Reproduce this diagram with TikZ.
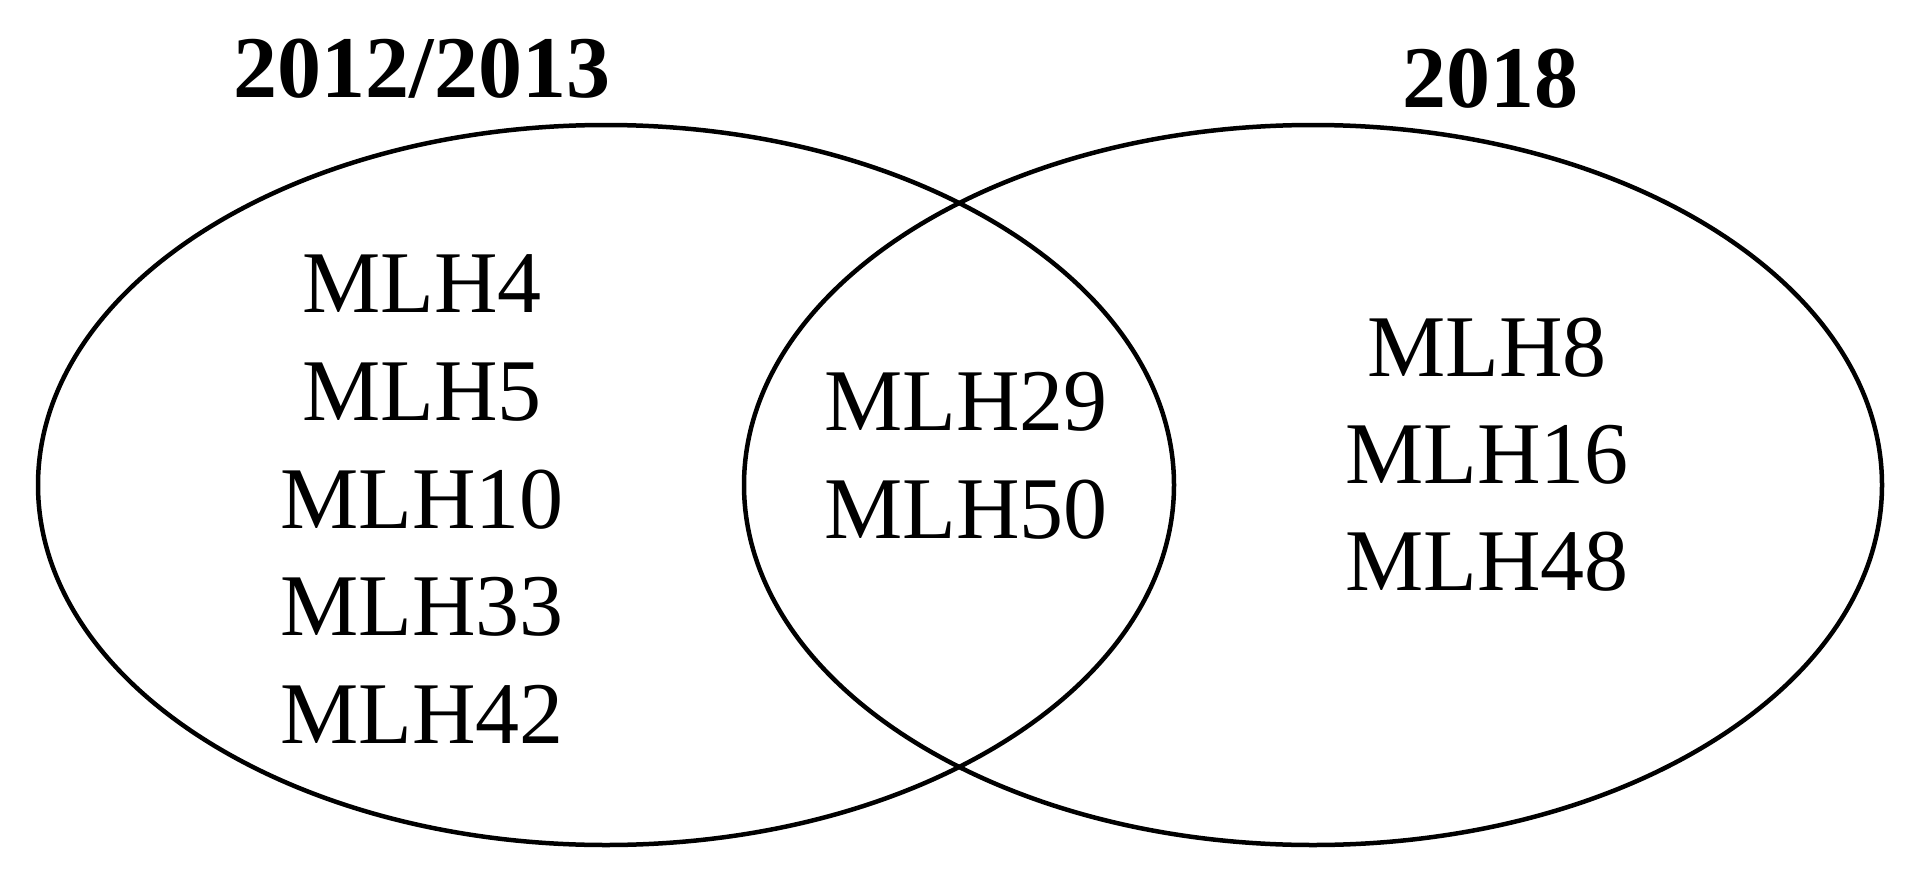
\documentclass[tikz,border=0pt]{standalone}
\usepackage{fontspec}
\setmainfont{Liberation Serif}
\begin{document}
\begin{tikzpicture}[x=1pt,y=-1pt,
  setring/.style={draw=black,line width=4.5pt},
  item/.style={anchor=base,inner sep=0pt,font=\fontsize{88}{106}\selectfont},
  title/.style={anchor=base,inner sep=0pt,font=\fontsize{88}{106}\selectfont\bfseries}]
\useasboundingbox (0,0) rectangle (1917,883);
\fill[white] (0,0) rectangle (1917,883);
\draw[setring] (606,485) ellipse [x radius=568pt, y radius=360pt];
\draw[setring] (1313,485) ellipse [x radius=569pt, y radius=360pt];
\node[title] (tl) at (422,97) {2012/2013};
\node[title] (tr) at (1490,107) {2018};
\node[item] (a1) at (422,312) {MLH4};
\node[item] (a2) at (422,420) {MLH5};
\node[item] (a3) at (422,528) {MLH10};
\node[item] (a4) at (422,635) {MLH33};
\node[item] (a5) at (422,743) {MLH42};
\node[item] (b1) at (966,430) {MLH29};
\node[item] (b2) at (966,538) {MLH50};
\node[item] (c1) at (1487,376) {MLH8};
\node[item] (c2) at (1487,483) {MLH16};
\node[item] (c3) at (1487,590) {MLH48};
\end{tikzpicture}
\end{document}
